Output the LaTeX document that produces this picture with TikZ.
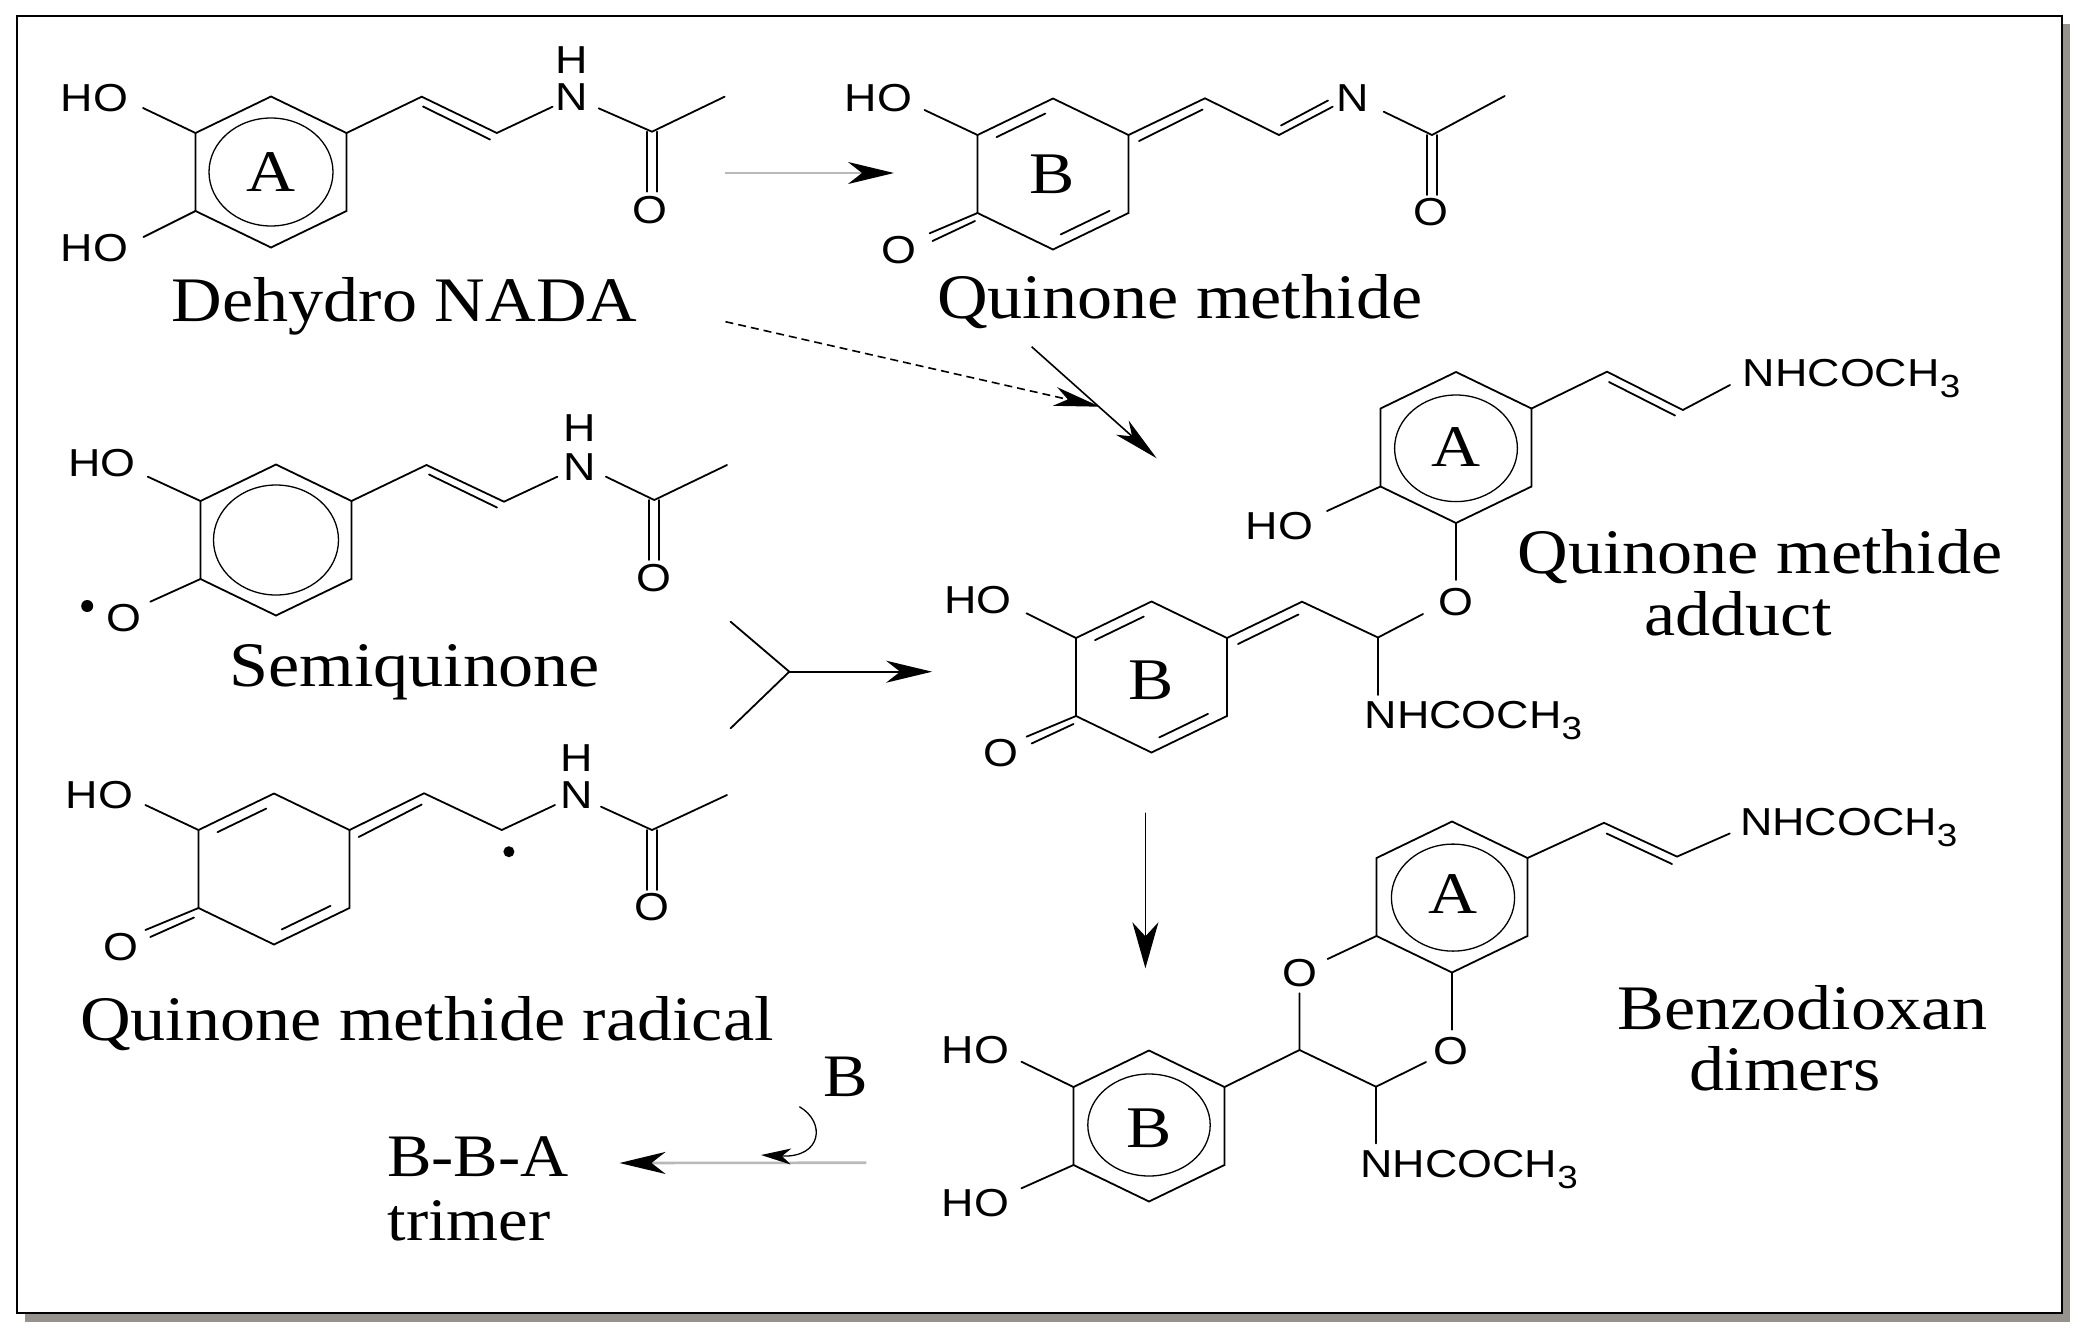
\documentclass[tikz,border=0pt]{standalone}
\usepackage{fontspec}
\setmainfont{Liberation Serif}
\setsansfont{Liberation Sans}
\usepackage{graphicx}
\usetikzlibrary{arrows.meta,calc}
\definecolor{arrgray}{RGB}{185,185,185}
\definecolor{shadowgray}{RGB}{150,146,142}
\newcommand\xs[1]{\scalebox{1.15}[1]{#1}}
\newcommand\xc[1]{\scalebox{1.15}[1.04]{#1}}
\newcommand\nhc{\xs{NHCOCH\raisebox{-11pt}{\fontsize{32}{32}\selectfont 3}}}
\newcommand\mkring[3]{%
  \coordinate (#1c) at (#2,#3);
  \coordinate (#1t) at (#2,#3-75.5);
  \coordinate (#1ur) at (#2+75.5,#3-39);
  \coordinate (#1lr) at (#2+75.5,#3+39);
  \coordinate (#1b) at (#2,#3+75.5);
  \coordinate (#1ll) at (#2-75.5,#3+39);
  \coordinate (#1ul) at (#2-75.5,#3-39);
  \draw[bond] (#1t)--(#1ur)--(#1lr)--(#1b)--(#1ll)--(#1ul)--cycle;}
\newcommand\inb[3]{%
  \path ($(#1#2)!0.12!(#1#3)$) coordinate (tmpa) ($(#1#2)!0.88!(#1#3)$) coordinate (tmpb);
  \draw[bond] ($(#1c)!0.85!(tmpa)$) -- ($(#1c)!0.85!(tmpb)$);}
\tikzset{
  bond/.style={line width=1.8pt, line cap=round, line join=miter},
  ringc/.style={line width=1.3pt},
  sl/.style={inner sep=0pt, font=\sffamily\fontsize{39}{39}\selectfont},
  nl/.style={inner sep=0pt, anchor=base west, font=\sffamily\fontsize{39}{39}\selectfont},
  rl/.style={inner sep=0pt, font=\fontsize{59}{59}\selectfont},
  capt/.style={inner sep=0pt, anchor=base, font=\fontsize{61}{61}\selectfont},
  capb/.style={inner sep=0pt, anchor=base, font=\fontsize{58}{58}\selectfont},
  tip/.style={-{Stealth[length=46pt,width=22pt,inset=14pt,color=black]}},
  tipn/.style={-{Stealth[length=46pt,width=19pt,inset=13pt,color=black]}},
  grayline/.style={line width=2.6pt, draw=arrgray},
  arr/.style={line width=1.6pt},
}
\begin{document}
\begin{tikzpicture}[x=1pt,y=-1pt]
\useasboundingbox (0,0) rectangle (2088,1339);
\fill[white] (0,0) rectangle (2088,1339);
% frame with shadow
\fill[shadowgray] (25,24) rectangle (2070,1322);
\draw[line width=2.4pt, fill=white] (17,16) rectangle (2062,1313);

%%%%% Dehydro NADA
\mkring{ra}{271}{172}
\draw[ringc] (rac) ellipse [x radius=62pt, y radius=54pt];
\node[rl] (labA1) at (270.5,172) {\xs{A}};
\node[sl] (ho1) at (94.5,98) {\xs{HO}};
\node[sl] (ho2) at (94.5,248) {\xs{HO}};
\draw[bond] (143,108) -- (raul);
\draw[bond] (143.5,237) -- (rall);
\draw[bond] (raur) -- (421.7,96.7) -- (496.8,133) -- (552.6,106.7);
\draw[bond] (423,106.5) -- (490,139.5);
\node[sl] (n1) at (572,96.7) {\xs{N}};
\node[sl] (h1) at (572,60) {\xs{H}};
\draw[bond] (598.6,108.3) -- (652,131.7) -- (724.6,96.7);
\draw[bond] (647,131.7) -- (647,191.7);
\draw[bond] (657,131.7) -- (657,191.7);
\node[sl] (o1) at (650,210) {\xs{O}};
\node[capt] (t1) at (404.7,321.7) {\xc{Dehydro NADA}};

%%%%% Quinone methide
\mkring{rb}{1053}{174}
\inb{rb}{ul}{t}
\inb{rb}{lr}{b}
\node[rl] (labB1) at (1052,174) {\xs{B}};
\node[sl] (ho3) at (878.6,98.3) {\xs{HO}};
\draw[bond] (924.5,110) -- (rbul);
\draw[bond] (rbll) -- (929.6,233.3);
\draw[bond] (975,221) -- (932.5,241);
\node[sl] (o2) at (899,250) {\xs{O}};
\draw[bond] (rbur) -- (1205,98.3) -- (1279,135) -- (1332.7,106.7);
\draw[bond] (1139,141) -- (1202.6,109.5);
\draw[bond] (1281,125.5) -- (1328,100.5);
\node[sl] (n2) at (1353,98.3) {\xs{N}};
\draw[bond] (1383.7,111.7) -- (1432,135) -- (1504.7,96);
\draw[bond] (1427,135) -- (1427,195);
\draw[bond] (1437,135) -- (1437,195);
\node[sl] (o3) at (1431,211.7) {\xs{O}};
\node[capt] (t2) at (1179.6,318) {\xc{Quinone methide}};

%%%%% Semiquinone
\mkring{rc}{276}{540}
\draw[ringc] (rcc) ellipse [x radius=62.5pt, y radius=55pt];
\node[sl] (ho4) at (101.8,463.3) {\xs{HO}};
\draw[bond] (147.8,476.7) -- (rcul);
\fill (87.2,606) circle [radius=6pt];
\node[sl] (o4) at (123.6,618.3) {\xs{O}};
\draw[bond] (150.3,601.7) -- (rcll);
\draw[bond] (rcur) -- (426.5,465) -- (504,501.7) -- (557.4,476.7);
\draw[bond] (429,474.5) -- (497,507.5);
\node[sl] (n3) at (579.2,466.7) {\xs{N}};
\node[sl] (h3) at (579.2,428.3) {\xs{H}};
\draw[bond] (605.9,476.7) -- (654.3,500) -- (727,465);
\draw[bond] (649.3,500) -- (649.3,560);
\draw[bond] (659.3,500) -- (659.3,560);
\node[sl] (o5) at (654.3,578.3) {\xs{O}};
\node[capt] (t3) at (414.5,686.7) {\xc{Semiquinone}};

%%%%% Quinone methide radical
\mkring{rd}{274}{869}
\inb{rd}{ul}{t}
\inb{rd}{lr}{b}
\node[sl] (ho5) at (99.4,795) {\xs{HO}};
\draw[bond] (145.4,805) -- (rdul);
\draw[bond] (rdll) -- (145.4,930);
\draw[bond] (194,917.5) -- (150.3,937);
\node[sl] (o6) at (121.2,946.7) {\xs{O}};
\draw[bond] (rdur) -- (424.1,793.3) -- (501.7,830) -- (555,805);
\draw[bond] (358.7,837) -- (421.7,804.5);
\fill (508.9,851.7) circle [radius=5.5pt];
\node[sl] (n4) at (576.8,795) {\xs{N}};
\node[sl] (h4) at (576.8,758.3) {\xs{H}};
\draw[bond] (601,806.7) -- (652,830) -- (727,795);
\draw[bond] (647,830) -- (647,890);
\draw[bond] (657,830) -- (657,890);
\node[sl] (o7) at (652,906.7) {\xs{O}};
\node[capt] (t4) at (426.8,1040) {\xc{Quinone methide radical}};

%%%%% Quinone methide adduct
\mkring{re}{1456}{447.5}
\draw[ringc] (1456,448.3) ellipse [x radius=61.4pt, y radius=53.3pt];
\node[rl] (labA2) at (1456,446.7) {\xs{A}};
\draw[bond] (reur) -- (1607,371.7) -- (1682.8,410) -- (1730,385);
\draw[bond] (1609,382) -- (1675,415.5);
\node[nl] (nh1) at (1742.7,386) {\nhc};
\draw[bond] (rell) -- (1327,511);
\node[sl] (ho6) at (1279.6,526) {\xs{HO}};
\draw[bond] (reb) -- (1456,580);
\node[sl] (o8) at (1456,601.7) {\xs{O}};
\draw[bond] (1423,614) -- (1378,637.5) -- (1302,601.7) -- (1227,638);
\draw[bond] (1378,637.5) -- (1378,695);
\draw[bond] (1238,644) -- (1298.5,614.5);
\node[nl] (nh2) at (1364.6,728) {\nhc};
\mkring{rf}{1151.5}{677}
\inb{rf}{ul}{t}
\inb{rf}{lr}{b}
\node[rl] (labB2) at (1151.5,680) {\xs{B}};
\node[sl] (ho7) at (978,600) {\xs{HO}};
\draw[bond] (1026.5,613.3) -- (rful);
\draw[bond] (rfll) -- (1026.5,736.7);
\draw[bond] (1073.5,724) -- (1031.6,743.5);
\node[sl] (o9) at (1001,753.3) {\xs{O}};
\node[capt] (t5) at (1760,573.3) {\xc{Quinone methide}};
\node[capt] (t6) at (1738,635) {\xc{adduct}};

%%%%% Benzodioxan dimers
\mkring{rg}{1452}{897}
\draw[ringc] (1453,897.6) ellipse [x radius=61.6pt, y radius=53.5pt];
\node[rl] (labA3) at (1453.3,894) {\xs{A}};
\draw[bond] (rgur) -- (1604,822.8) -- (1677,856.6) -- (1729.7,833.5);
\draw[bond] (1606.6,833.5) -- (1672,864);
\node[nl] (nh3) at (1739.8,835.3) {\nhc};
\draw[bond] (rgll) -- (1327.6,959);
\node[sl] (o10) at (1299.5,973.3) {\xs{O}};
\draw[bond] (1299.5,993.3) -- (1299.5,1050) -- (1376,1086.7) -- (1426,1062);
\node[sl] (o11) at (1451,1051) {\xs{O}};
\draw[bond] (rgb) -- (1452,1029.6);
\draw[bond] (1376,1086.7) -- (1376,1143.5);
\node[nl] (nh4) at (1360.3,1177.5) {\nhc};
\mkring{rh}{1149}{1126}
\draw[bond] (1299.5,1050) -- (rhur);
\draw[ringc] (1149,1125) ellipse [x radius=61.2pt, y radius=51pt];
\node[rl] (labB3) at (1149,1128) {\xs{B}};
\node[sl] (ho8) at (975.5,1050) {\xs{HO}};
\node[sl] (ho9) at (975.5,1203.3) {\xs{HO}};
\draw[bond] (1021.4,1061.7) -- (rhul);
\draw[bond] (1021.4,1188.3) -- (rhll);
\node[capt] (t7) at (1802.5,1029.6) {\xc{Benzodioxan}};
\node[capt] (t8) at (1785,1090.2) {\xc{dimers}};

%%%%% trimer
\node[capb] (t9) at (478,1176.7) {\xc{B-B-A}};
\node[capb] (t10) at (469,1240) {\xc{trimer}};
\node[capb] (t11) at (845.3,1096.7) {\xc{B}};

%%%%% arrows
\coordinate (a1s) at (725,173);
\coordinate (a1e) at (894,173);
\draw[grayline, tip] (a1s) -- (a1e);

\coordinate (a2s) at (725.5,321.7);
\coordinate (a2e) at (1100,406.7);
\draw[arr, dash pattern=on 8pt off 5pt, tipn] (a2s) -- (a2e);

\coordinate (a3s) at (1031.6,346.7);
\coordinate (a3e) at (1156.7,458.3);
\draw[arr, tipn] (a3s) -- (a3e);

\coordinate (m1) at (730.6,621.7);
\coordinate (mj) at (789.3,671.7);
\coordinate (m2) at (730.6,728.3);
\coordinate (me) at (932.1,671.7);
\draw[bond] (m1) -- (mj) -- (m2);
\draw[bond, tip] (mj) -- (me);

\coordinate (d1) at (1145.4,813.3);
\coordinate (d2) at (1145.4,968.3);
\draw[bond, -{Stealth[length=46pt,width=26pt,inset=14pt]}] (d1) -- (d2);

\coordinate (b1) at (866.4,1162.7);
\coordinate (b2) at (619.5,1163);
\draw[grayline, tip] (b1) -- (b2);

\coordinate (c1) at (799.4,1106.7);
\coordinate (c2) at (761,1155);
\draw[line width=1.3pt, -{Stealth[length=30pt,width=16pt,inset=9pt]}] (c1) .. controls (826,1122) and (822,1158) .. (c2);
\end{tikzpicture}
\end{document}
